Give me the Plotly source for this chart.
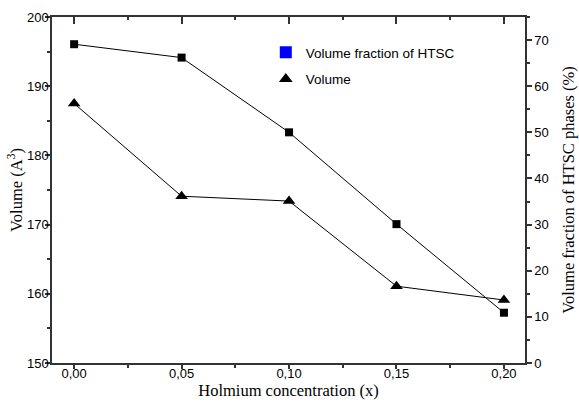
import plotly.graph_objects as go

x_conc = [0.00, 0.05, 0.10, 0.15, 0.20]
volume = [187.5, 174.1, 173.4, 161.1, 159.1]
htsc_fraction = [69.1, 66.2, 50.0, 30.1, 10.9]

left_ticks = [150, 160, 170, 180, 190, 200]
right_ticks = [0, 10, 20, 30, 40, 50, 60, 70]

tick_font = dict(family="Liberation Sans, Arial", size=13, color="black")
title_font = dict(family="Liberation Serif, Times New Roman", size=16.5, color="black")

fig = go.Figure()

fig.add_trace(go.Scatter(
    x=x_conc, y=htsc_fraction, yaxis="y2", mode="lines+markers",
    line=dict(color="black", width=1),
    marker=dict(symbol="square", size=8, color="black"),
    showlegend=False))
fig.add_trace(go.Scatter(
    x=x_conc, y=volume, mode="lines+markers",
    line=dict(color="black", width=1),
    marker=dict(symbol="triangle-up", size=11, color="black"),
    showlegend=False))

# legend entries
fig.add_trace(go.Scatter(
    x=[None], y=[None], mode="markers", name="Volume fraction of HTSC",
    marker=dict(symbol="square", size=10, color="#0000ff"), legendgroup="a"))
fig.add_trace(go.Scatter(
    x=[None], y=[None], mode="markers", name="Volume",
    marker=dict(symbol="triangle-up", size=10, color="black"), legendgroup="b"))

# invisible trace to drive the top axis
fig.add_trace(go.Scatter(x=[None], y=[None], xaxis="x2", showlegend=False))

fig.update_layout(
    width=579, height=402,
    margin=dict(l=52, r=54, t=17, b=39, autoexpand=False),
    paper_bgcolor="white", plot_bgcolor="white",
    separators=",.",
    showlegend=True,
    legend=dict(x=0.452, y=0.942, xanchor="left", yanchor="top",
                font=dict(family="Liberation Sans, Arial", size=13.5, color="black"),
                bgcolor="rgba(0,0,0,0)", tracegroupgap=6,
                itemsizing="constant"),
    xaxis=dict(range=[-0.0103, 0.2098], tickmode="linear", tick0=0, dtick=0.05,
               tickformat=".2f", ticks="outside", ticklen=4, tickwidth=1.5,
               tickcolor="#333", showline=True, linecolor="#333", linewidth=1.5,
               showgrid=False, zeroline=False, tickfont=tick_font,
               ticklabelstandoff=-6, automargin=False,
               minor=dict(dtick=0.025, ticks="outside", ticklen=3, tickwidth=1.5,
                          tickcolor="#333", showgrid=False),
               title=dict(text="Holmium concentration (x)", font=title_font, standoff=0)),
    xaxis2=dict(range=[-0.0103, 0.2098], overlaying="x", side="top",
                tickmode="linear", tick0=0, dtick=0.05, ticks="inside", ticklen=7,
                tickwidth=1.5, tickcolor="#333", showline=True, linecolor="#333",
                linewidth=1.5, showticklabels=False, showgrid=False, zeroline=False,
                automargin=False,
                minor=dict(dtick=0.025, ticks="inside", ticklen=3, tickwidth=1.5,
                           tickcolor="#333", showgrid=False)),
    yaxis=dict(range=[150, 200], tickmode="array", tickvals=left_ticks,
               ticks="outside", ticklen=5, tickwidth=1.5, tickcolor="#333",
               showline=True, linecolor="#333", linewidth=1.5, showgrid=False,
               zeroline=False, tickfont=tick_font, ticklabelstandoff=-6,
               automargin=False,
               minor=dict(dtick=5, ticks="outside", ticklen=3, tickwidth=1.5,
                          tickcolor="#333", showgrid=False),
               title=dict(text="Volume (A<sup>3</sup>)", font=title_font, standoff=0)),
    yaxis2=dict(range=[0, 75], overlaying="y", side="right", tickmode="array",
                tickvals=right_ticks, ticks="outside", ticklen=5, tickwidth=1.5,
                tickcolor="#333", showline=True, linecolor="#333", linewidth=1.5,
                showgrid=False, zeroline=False, tickfont=tick_font, ticklabelstandoff=0,
                automargin=False,
                minor=dict(dtick=5, ticks="outside", ticklen=3, tickwidth=1.5,
                           tickcolor="#333", showgrid=False),
                title=dict(text="Volume fraction of HTSC phases (%)", font=title_font,
                           standoff=15)),
)

fig.write_html("out.html", config={"displayModeBar": False},
               post_script="document.body.style.margin='0';document.body.style.overflow='hidden';")
